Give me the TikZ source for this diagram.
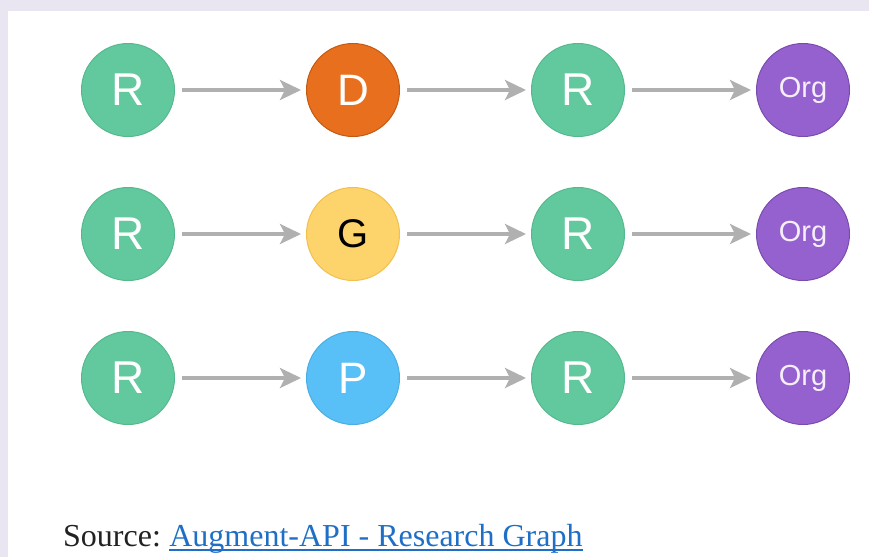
\documentclass[tikz,border=0pt]{standalone}
\usepackage{fontspec}
\setmainfont{Liberation Serif}
\newfontfamily\arialfont{Liberation Sans}
\usetikzlibrary{arrows.meta}

\definecolor{pagebg}{HTML}{E9E6F2}
\definecolor{resgreen}{HTML}{62C99E}
\definecolor{resgreenline}{HTML}{56B98E}
\definecolor{dataorange}{HTML}{E86F1E}
\definecolor{dataorangeline}{HTML}{C45A12}
\definecolor{grantyellow}{HTML}{FDD36B}
\definecolor{grantyellowline}{HTML}{F2C04F}
\definecolor{pubblue}{HTML}{58C0F6}
\definecolor{pubblueline}{HTML}{4AAEE3}
\definecolor{orgpurple}{HTML}{9561CF}
\definecolor{orgpurpleline}{HTML}{7A4BAE}
\definecolor{edgegray}{HTML}{B0B0B0}
\definecolor{linkblue}{HTML}{1F6FC6}
\definecolor{srcgray}{HTML}{222222}

\tikzset{
  entity/.style={circle, minimum size=93pt, inner sep=0pt, line width=1pt,
                 font=\arialfont, text=white},
  researcher/.style={entity, fill=resgreen, draw=resgreenline, font=\arialfont\fontsize{46}{46}\selectfont},
  dataset/.style={entity, fill=dataorange, draw=dataorangeline, font=\arialfont\fontsize{44}{44}\selectfont},
  grant/.style={entity, fill=grantyellow, draw=grantyellowline, text=black, font=\arialfont\fontsize{40}{40}\selectfont},
  publication/.style={entity, fill=pubblue, draw=pubblueline, font=\arialfont\fontsize{44}{44}\selectfont},
  organisation/.style={entity, fill=orgpurple, draw=orgpurpleline, text=white!90!orgpurple, font=\arialfont\fontsize{29}{29}\selectfont},
  link/.style={draw=edgegray, line width=3.2pt, shorten <=7pt, shorten >=5pt,
               -{Stealth[length=21pt,width=20pt,inset=5pt]}},
  srctext/.style={anchor=base west, inner sep=0pt, font=\fontsize{32}{32}\selectfont},
}

\begin{document}
\begin{tikzpicture}[x=1pt,y=-1pt]
  % page background and white panel
  \fill[pagebg] (0,0) rectangle (869,557);
  \fill[white] (8,11) rectangle (869,557);
  \useasboundingbox (0,0) rectangle (869,557);

  % row 1: researcher -> dataset -> researcher -> organisation
  \node[researcher]   (r1a) at (128,90) {R};
  \node[dataset]      (d1)  at (353,90) {D};
  \node[researcher]   (r1b) at (578,90) {R};
  \node[organisation] (o1)  at (803,90) {Org};

  % row 2: researcher -> grant -> researcher -> organisation
  \node[researcher]   (r2a) at (128,234) {R};
  \node[grant]        (g2)  at (353,234) {G};
  \node[researcher]   (r2b) at (578,234) {R};
  \node[organisation] (o2)  at (803,234) {Org};

  % row 3: researcher -> publication -> researcher -> organisation
  \node[researcher]   (r3a) at (128,378) {R};
  \node[publication]  (p3)  at (353,378) {P};
  \node[researcher]   (r3b) at (578,378) {R};
  \node[organisation] (o3)  at (803,378) {Org};

  \foreach \a/\b in {r1a/d1, d1/r1b, r1b/o1,
                     r2a/g2, g2/r2b, r2b/o2,
                     r3a/p3, p3/r3b, r3b/o3}
    \draw[link] (\a) -- (\b);

  % source line with underlined link
  \node[srctext, text=srcgray] (src) at (63,546) {Source:};
  \node[srctext, text=linkblue] (srclink) at ([xshift=8pt]src.base east) {Augment-API - Research Graph};
  \draw[linkblue, line width=1.4pt] ([yshift=-4pt]srclink.base west) -- ([yshift=-4pt]srclink.base east);
\end{tikzpicture}
\end{document}
